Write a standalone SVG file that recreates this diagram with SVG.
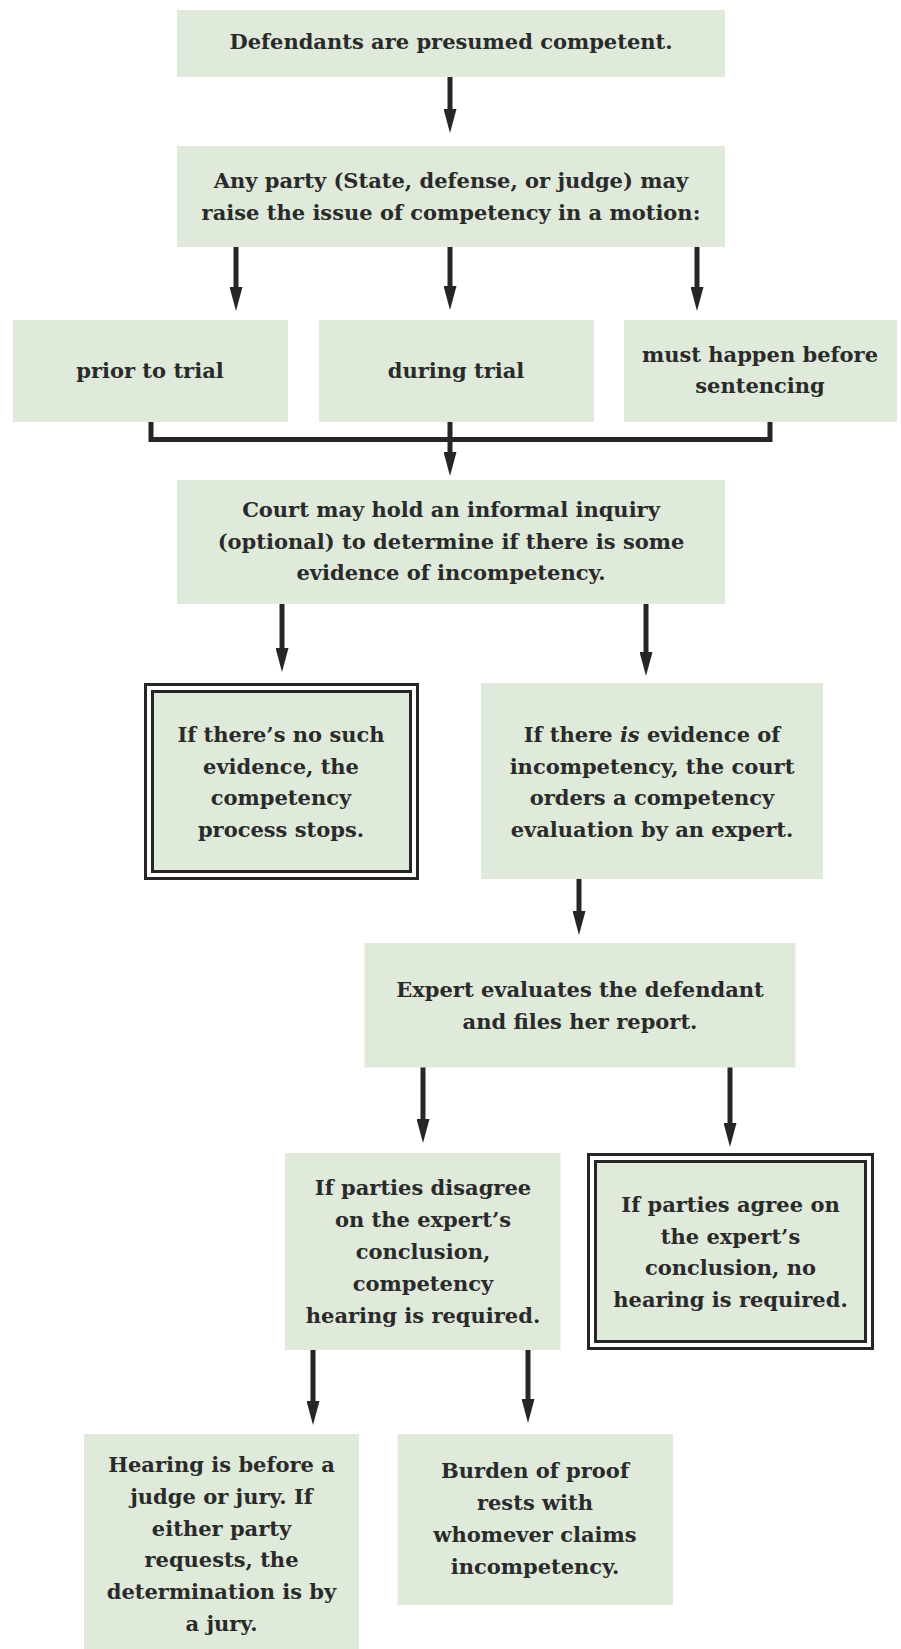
<svg xmlns="http://www.w3.org/2000/svg" width="901" height="1649" viewBox="0 0 901 1649">
<defs>
<style>
.box{fill:#dfeadb}
.outer{fill:#ffffff;stroke:#262626;stroke-width:3}
.inner{fill:#dfeadb;stroke:#262626;stroke-width:3}
.t{font-family:"DejaVu Serif","Liberation Serif",serif;font-weight:bold;font-size:21px;fill:#2a2a2a;text-anchor:middle}
.c{fill:none;stroke:#262626;stroke-width:5}
</style>
<marker id="ah" markerUnits="userSpaceOnUse" markerWidth="24" markerHeight="13" refX="6" refY="6.5" orient="auto">
<path d="M0,0 L24,6.5 L0,13 z" fill="#262626"/>
</marker>
</defs>
<rect width="901" height="1649" fill="#ffffff"/>

<g id="connectors">
<line class="c" x1="450" y1="77" x2="450" y2="115" marker-end="url(#ah)"/>
<line class="c" x1="236" y1="247" x2="236" y2="293" marker-end="url(#ah)"/>
<line class="c" x1="450" y1="247" x2="450" y2="292" marker-end="url(#ah)"/>
<line class="c" x1="697" y1="247" x2="697" y2="293" marker-end="url(#ah)"/>
<path class="c" d="M151,421 V439.5 H770 V421"/>
<line class="c" x1="450" y1="421" x2="450" y2="458" marker-end="url(#ah)"/>
<line class="c" x1="282" y1="604" x2="282" y2="654" marker-end="url(#ah)"/>
<line class="c" x1="646" y1="604" x2="646" y2="658" marker-end="url(#ah)"/>
<line class="c" x1="579" y1="879" x2="579" y2="917" marker-end="url(#ah)"/>
<line class="c" x1="423" y1="1067" x2="423" y2="1125" marker-end="url(#ah)"/>
<line class="c" x1="730" y1="1067" x2="730" y2="1129" marker-end="url(#ah)"/>
<line class="c" x1="313" y1="1350" x2="313" y2="1407" marker-end="url(#ah)"/>
<line class="c" x1="528" y1="1350" x2="528" y2="1405" marker-end="url(#ah)"/>
</g>

<g id="n1">
<rect class="box" x="177" y="10" width="548" height="67"/>
<text class="t" x="451" y="49">Defendants are presumed competent.</text>
</g>

<g id="n2">
<rect class="box" x="177" y="146" width="548" height="101"/>
<text class="t" x="451" y="188">Any party (State, defense, or judge) may</text>
<text class="t" x="451" y="220">raise the issue of competency in a motion:</text>
</g>

<g id="n3a">
<rect class="box" x="13" y="320" width="275" height="102"/>
<text class="t" x="150" y="378">prior to trial</text>
</g>

<g id="n3b">
<rect class="box" x="319" y="320" width="275" height="102"/>
<text class="t" x="456" y="378">during trial</text>
</g>

<g id="n3c">
<rect class="box" x="624" y="320" width="273" height="102"/>
<text class="t" x="760" y="362">must happen before</text>
<text class="t" x="760" y="393">sentencing</text>
</g>

<g id="n4">
<rect class="box" x="177" y="480" width="548" height="124"/>
<text class="t" x="451" y="517">Court may hold an informal inquiry</text>
<text class="t" x="451" y="548.5">(optional) to determine if there is some</text>
<text class="t" x="451" y="580">evidence of incompetency.</text>
</g>

<g id="n5">
<rect class="outer" x="145.5" y="684.5" width="272" height="194"/>
<rect class="inner" x="152.5" y="691.5" width="258" height="180"/>
<text class="t" x="281" y="742">If there’s no such</text>
<text class="t" x="281" y="773.5">evidence, the</text>
<text class="t" x="281" y="805">competency</text>
<text class="t" x="281" y="837">process stops.</text>
</g>

<g id="n6">
<rect class="box" x="481" y="683" width="342" height="196"/>
<text class="t" x="652" y="742">If there <tspan font-style="italic">is</tspan> evidence of</text>
<text class="t" x="652" y="773.5">incompetency, the court</text>
<text class="t" x="652" y="805">orders a competency</text>
<text class="t" x="652" y="837">evaluation by an expert.</text>
</g>

<g id="n7">
<rect class="box" x="364.5" y="943" width="431" height="124.5"/>
<text class="t" x="580" y="997">Expert evaluates the defendant</text>
<text class="t" x="580" y="1028.5">and files her report.</text>
</g>

<g id="n8">
<rect class="box" x="285" y="1153" width="275.5" height="197"/>
<text class="t" x="423" y="1195">If parties disagree</text>
<text class="t" x="423" y="1226.7">on the expert’s</text>
<text class="t" x="423" y="1259">conclusion,</text>
<text class="t" x="423" y="1291">competency</text>
<text class="t" x="423" y="1322.7">hearing is required.</text>
</g>

<g id="n9">
<rect class="outer" x="588.5" y="1154.5" width="284" height="194"/>
<rect class="inner" x="595.5" y="1161.5" width="270" height="180"/>
<text class="t" x="730.5" y="1212">If parties agree on</text>
<text class="t" x="730.5" y="1243.5">the expert’s</text>
<text class="t" x="730.5" y="1275">conclusion, no</text>
<text class="t" x="730.5" y="1307">hearing is required.</text>
</g>

<g id="n10">
<rect class="box" x="84" y="1434" width="275" height="215"/>
<text class="t" x="221.5" y="1472">Hearing is before a</text>
<text class="t" x="221.5" y="1503.5">judge or jury. If</text>
<text class="t" x="221.5" y="1535.5">either party</text>
<text class="t" x="221.5" y="1567">requests, the</text>
<text class="t" x="221.5" y="1599">determination is by</text>
<text class="t" x="221.5" y="1630.5">a jury.</text>
</g>

<g id="n11">
<rect class="box" x="397.5" y="1434" width="275.5" height="171"/>
<text class="t" x="535" y="1478">Burden of proof</text>
<text class="t" x="535" y="1510">rests with</text>
<text class="t" x="535" y="1542">whomever claims</text>
<text class="t" x="535" y="1574">incompetency.</text>
</g>
</svg>
